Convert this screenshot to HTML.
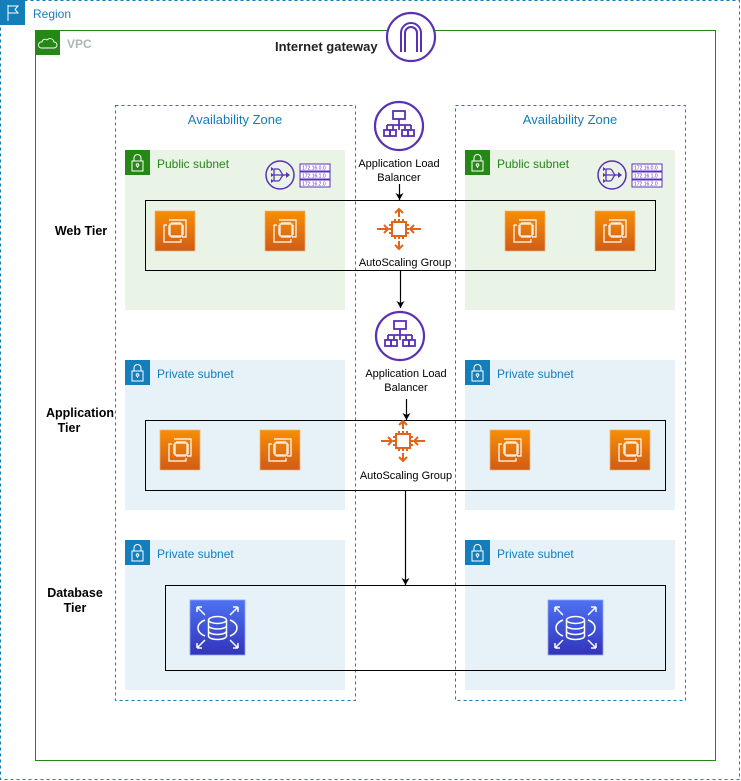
<!DOCTYPE html>
<html><head><meta charset="utf-8"><style>
body{margin:0;background:#fff}
svg{display:block;font-family:"Liberation Sans",sans-serif}
</style></head><body>
<svg width="741" height="781" viewBox="0 0 741 781" xmlns="http://www.w3.org/2000/svg">
<defs>
<linearGradient id="og" x1="0" y1="0" x2="0" y2="1"><stop offset="0" stop-color="#f78e04"/><stop offset="1" stop-color="#d05c17"/></linearGradient>
<linearGradient id="bg" x1="0" y1="0" x2="0" y2="1"><stop offset="0" stop-color="#4d72f3"/><stop offset="1" stop-color="#3334b9"/></linearGradient>
<g id="ec2">
<rect x="0" y="0" width="40" height="40" fill="url(#og)" stroke="#f2b27a" stroke-width="0.7"/>
<g fill="none" stroke="#fff" stroke-width="1.2">
<path d="M14 9 H31 V26 H27"/><path d="M12 14 H9 V31 H26 V28"/>
<rect x="15" y="13" width="12" height="12"/>
<path d="M17 11v2M19 11v2M21 11v2M23 11v2M25 11v2M17 25v2M19 25v2M21 25v2M23 25v2M25 25v2M13 15h2M13 17h2M13 19h2M13 21h2M13 23h2M27 15h2M27 17h2M27 19h2M27 21h2M27 23h2"/>
</g></g>
<g id="rds">
<rect x="0" y="0" width="55" height="55" fill="url(#bg)" stroke="#8fa3f5" stroke-width="0.8"/>
<g fill="none" stroke="#fff" stroke-width="1.5">
<ellipse cx="27.5" cy="20" rx="9" ry="3.5"/><path d="M18.5 20v16c0 2 4 3.5 9 3.5s9-1.5 9-3.5V20M18.5 25.5c0 2 4 3.5 9 3.5s9-1.5 9-3.5M18.5 31c0 2 4 3.5 9 3.5s9-1.5 9-3.5"/>
<path d="M15 20c-5 2-7 5-7 8s2 6 7 8M40 20c5 2 7 5 7 8s-2 6-7 8"/>
<path d="M7 7l8 8M7 7h5M7 7v5M48 7l-8 8M48 7h-5M48 7v5M7 48l8-8M7 48h5M7 48v-5M48 48l-8-8M48 48h-5M48 48v-5"/>
</g></g>
<g id="alb">
<circle cx="0" cy="0" r="24" fill="#fff" stroke="#5a30b5" stroke-width="2.2"/>
<g fill="none" stroke="#5a30b5" stroke-width="1.8">
<rect x="-6" y="-15" width="12" height="8"/><path d="M0 -7v6M-12 -1h24M-12 -1v5M0 -1v5M12 -1v5M-6 -1v5M6 -1v5"/>
<rect x="-15" y="4" width="6" height="6"/><rect x="-9" y="4" width="6" height="6"/><rect x="3" y="4" width="6" height="6"/><rect x="9" y="4" width="6" height="6"/>
</g></g>
<g id="asg" fill="none" stroke="#e0641a" stroke-width="2">
<rect x="-7" y="-7" width="14" height="14"/>
<path d="M-4 -10v3M0 -10v3M4 -10v3M-4 7v3M0 7v3M4 7v3M-10 -4h3M-10 0h3M-10 4h3M7 -4h3M7 0h3M7 4h3"/>
<path d="M0 -12v-8M-4 -16l4-4 4 4M0 12v8M-4 16l4 4 4-4M-12 0h-10M-15 -4l4 4-4 4M12 0h10M15 -4l-4 4 4 4"/>
</g>
<g id="nat">
<circle cx="0" cy="0" r="14" fill="none" stroke="#5a30b5" stroke-width="1.5"/>
<path d="M-6 -6v12M-6 -6h4M-6 0h12M-6 6h4M-2 -6c3 0 3 6 6 6M-2 6c3 0 3-6 6-6" fill="none" stroke="#5a30b5" stroke-width="1.3"/>
<path d="M6 -3l4 3-4 3z M-9 -8l3 2-3 2zM-9 -2l3 2-3 2zM-9 4l3 2-3 2z" fill="#5a30b5"/>
<g font-size="5" fill="#5a30b5"><rect x="20" y="-11" width="30" height="7" fill="#fff" stroke="#5a30b5"/><rect x="20" y="-3" width="30" height="7" fill="#fff" stroke="#5a30b5"/><rect x="20" y="5" width="30" height="7" fill="#fff" stroke="#5a30b5"/>
<text x="22" y="-5.5">172.16.0.0</text><text x="22" y="2.5">172.16.1.0</text><text x="22" y="10.5">172.16.2.0</text></g>
</g>
<g id="lockG"><rect width="25" height="25" fill="#248814"/><g fill="none" stroke="#fff" stroke-width="1"><rect x="7" y="11" width="11" height="10"/><path d="M9 11V8a3.5 3.5 0 0 1 7 0v3"/><circle cx="12.5" cy="15" r="1.3"/><path d="M12.5 16v2"/></g></g>
<g id="lockB"><rect width="25" height="25" fill="#147eba"/><g fill="none" stroke="#fff" stroke-width="1"><rect x="7" y="11" width="11" height="10"/><path d="M9 11V8a3.5 3.5 0 0 1 7 0v3"/><circle cx="12.5" cy="15" r="1.3"/><path d="M12.5 16v2"/></g></g>
<marker id="ar" markerWidth="8" markerHeight="8" refX="7" refY="4" orient="auto" markerUnits="userSpaceOnUse"><path d="M0 0L7 4L0 8L2 4z" fill="#000"/></marker>
</defs>

<!-- Region -->
<rect x="0.5" y="0.5" width="739" height="779" fill="none" stroke="#147eba" stroke-dasharray="3,3"/>
<rect x="0" y="0" width="25" height="25" fill="#147eba"/>
<path d="M8 5v16M8 6h10l-3 3.5 3 3.5H8" fill="none" stroke="#fff" stroke-width="1"/>
<text x="33" y="18" font-size="12" fill="#147eba">Region</text>

<!-- VPC -->
<rect x="35.5" y="30.5" width="680" height="730" fill="none" stroke="#248814"/>
<rect x="35" y="30" width="25" height="25" fill="#248814"/>
<path d="M41 48h13a3 3 0 0 0 0-6 4 4 0 0 0-7-2 3 3 0 0 0-5 2 3 3 0 0 0-1 6z" fill="none" stroke="#fff" stroke-width="0.9"/>
<text x="67" y="48" font-size="12" font-weight="bold" fill="#aab7b8">VPC</text>

<!-- IGW -->
<circle cx="411" cy="37" r="24" fill="#fff" stroke="#5a30b5" stroke-width="2.2"/>
<path d="M401 52V33a10 10 0 0 1 20 0v19M405 52V33a6 6 0 0 1 12 0v19" fill="none" stroke="#5a30b5" stroke-width="2"/>
<text x="275" y="51" font-size="13" font-weight="bold" fill="#222">Internet gateway</text>

<!-- AZs -->
<rect x="115.5" y="105.5" width="240" height="595" fill="none" stroke="#147eba" stroke-dasharray="3,3"/>
<rect x="455.5" y="105.5" width="230" height="595" fill="none" stroke="#147eba" stroke-dasharray="3,3"/>
<text x="235" y="124" font-size="13" fill="#147eba" text-anchor="middle">Availability Zone</text>
<text x="570" y="124" font-size="13" fill="#147eba" text-anchor="middle">Availability Zone</text>

<!-- Subnets -->
<rect x="125" y="150" width="220" height="160" fill="#e9f3e6"/>
<rect x="465" y="150" width="210" height="160" fill="#e9f3e6"/>
<use href="#lockG" x="125" y="150"/><use href="#lockG" x="465" y="150"/>
<text x="157" y="168" font-size="12" fill="#248814">Public subnet</text>
<text x="497" y="168" font-size="12" fill="#248814">Public subnet</text>
<use href="#nat" x="280" y="175"/><use href="#nat" x="612" y="175"/>

<rect x="125" y="360" width="220" height="150" fill="#e6f2f8"/>
<rect x="465" y="360" width="210" height="150" fill="#e6f2f8"/>
<use href="#lockB" x="125" y="360"/><use href="#lockB" x="465" y="360"/>
<text x="157" y="378" font-size="12" fill="#147eba">Private subnet</text>
<text x="497" y="378" font-size="12" fill="#147eba">Private subnet</text>

<rect x="125" y="540" width="220" height="150" fill="#e6f2f8"/>
<rect x="465" y="540" width="210" height="150" fill="#e6f2f8"/>
<use href="#lockB" x="125" y="540"/><use href="#lockB" x="465" y="540"/>
<text x="157" y="558" font-size="12" fill="#147eba">Private subnet</text>
<text x="497" y="558" font-size="12" fill="#147eba">Private subnet</text>

<!-- Tier boxes -->
<rect x="145.5" y="200.5" width="510" height="70" fill="none" stroke="#000"/>
<rect x="145.5" y="420.5" width="520" height="70" fill="none" stroke="#000"/>
<rect x="165.5" y="585.5" width="500" height="85" fill="none" stroke="#000"/>

<!-- Tier labels -->
<g font-size="12.5" font-weight="bold" fill="#000" text-anchor="middle">
<text x="81" y="235">Web Tier</text>
<text x="80" y="417">Application</text><text x="69" y="432">Tier</text>
<text x="75" y="597">Database</text><text x="75" y="612">Tier</text>
</g>

<!-- EC2 -->
<use href="#ec2" x="155" y="211"/><use href="#ec2" x="265" y="211"/>
<use href="#ec2" x="505" y="211"/><use href="#ec2" x="595" y="211"/>
<use href="#ec2" x="160" y="430"/><use href="#ec2" x="260" y="430"/>
<use href="#ec2" x="490" y="430"/><use href="#ec2" x="610" y="430"/>
<use href="#rds" x="190" y="600"/><use href="#rds" x="548" y="600"/>

<!-- ALB / ASG -->
<use href="#alb" x="399" y="126"/>
<text x="399" y="167" font-size="11" text-anchor="middle">Application Load</text>
<text x="399" y="181" font-size="11" text-anchor="middle">Balancer</text>
<use href="#asg" x="399" y="229"/>
<text x="405" y="266" font-size="11" text-anchor="middle">AutoScaling Group</text>

<use href="#alb" x="400" y="336"/>
<text x="406" y="377" font-size="11" text-anchor="middle">Application Load</text>
<text x="406" y="391" font-size="11" text-anchor="middle">Balancer</text>
<use href="#asg" x="403" y="441"/>
<text x="406" y="479" font-size="11" text-anchor="middle">AutoScaling Group</text>

<!-- arrows -->
<g stroke="#000" stroke-width="1.2" fill="none">
<path d="M399.5 184V200" marker-end="url(#ar)"/>
<path d="M400.5 271V308" marker-end="url(#ar)"/>
<path d="M406.5 399V420" marker-end="url(#ar)"/>
<path d="M405.5 491V585" marker-end="url(#ar)"/>
</g>
</svg>
</body></html>
